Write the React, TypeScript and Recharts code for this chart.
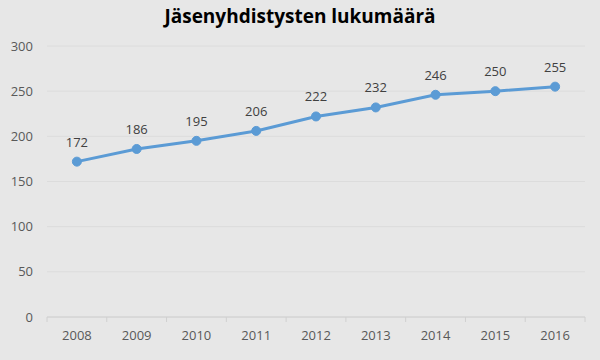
import { LineChart, Line, XAxis, YAxis, CartesianGrid, LabelList } from 'recharts'

const years = ['2008', '2009', '2010', '2011', '2012', '2013', '2014', '2015', '2016']
const counts = [172, 186, 195, 206, 222, 232, 246, 250, 255]
const yTicks = [0, 50, 100, 150, 200, 250, 300]

const data = years.map((year, i) => ({ year, count: counts[i] }))

const W = 600
const H = 360
const MARGIN = { top: 46, right: 15, left: 0, bottom: 13 }
const Y_WIDTH = 47
const STEP = (W - MARGIN.right - Y_WIDTH) / years.length

const FONT = '"Open Sans", "Liberation Sans", sans-serif'

// Excel style: tick marks sit between categories, labels under the points
function CategoryTick(props: any) {
  const { x, y, payload, index } = props
  const last = index === years.length - 1
  return (
    <g>
      <line x1={x - STEP / 2} x2={x - STEP / 2} y1={y - 8} y2={y - 3} stroke="#d0d0d0" />
      {last && <line x1={x + STEP / 2} x2={x + STEP / 2} y1={y - 8} y2={y - 3} stroke="#d0d0d0" />}
      <text x={x} y={y + 15} textAnchor="middle" fill="#595959" fontSize={13} fontFamily={FONT}>
        {payload.value}
      </text>
    </g>
  )
}

export default function App() {
  return (
    <div style={{ position: 'absolute', left: 0, top: 0, width: W, height: H, background: '#e7e7e7' }}>
      <div
        style={{
          position: 'absolute',
          top: 3,
          width: W,
          textAlign: 'center',
          fontFamily: FONT,
          fontWeight: 700,
          fontSize: 19,
          color: '#000',
        }}
      >
        Jäsenyhdistysten lukumäärä
      </div>
      <LineChart width={W} height={H} data={data} margin={MARGIN} style={{ position: 'absolute', top: 0, left: 0 }}>
        <CartesianGrid vertical={false} stroke="#dcdcdc" />
        <XAxis
          dataKey="year"
          padding={{ left: STEP / 2, right: STEP / 2 }}
          axisLine={{ stroke: '#d0d0d0' }}
          tickLine={false}
          tick={<CategoryTick />}
          interval={0}
          height={30}
        />
        <YAxis
          domain={[0, 300]}
          ticks={yTicks}
          width={Y_WIDTH}
          axisLine={false}
          tickLine={false}
          tick={{ fill: '#595959', fontSize: 13, fontFamily: FONT, dx: -6 }}
        />
        <Line
          type="linear"
          dataKey="count"
          stroke="#5b9bd5"
          strokeWidth={3}
          dot={{ r: 4.5, fill: '#5b9bd5', stroke: '#5b9bd5', strokeWidth: 1 }}
          isAnimationActive={false}
        >
          <LabelList dataKey="count" position="top" offset={15} fill="#404040" fontSize={13} fontFamily={FONT} />
        </Line>
      </LineChart>
    </div>
  )
}
